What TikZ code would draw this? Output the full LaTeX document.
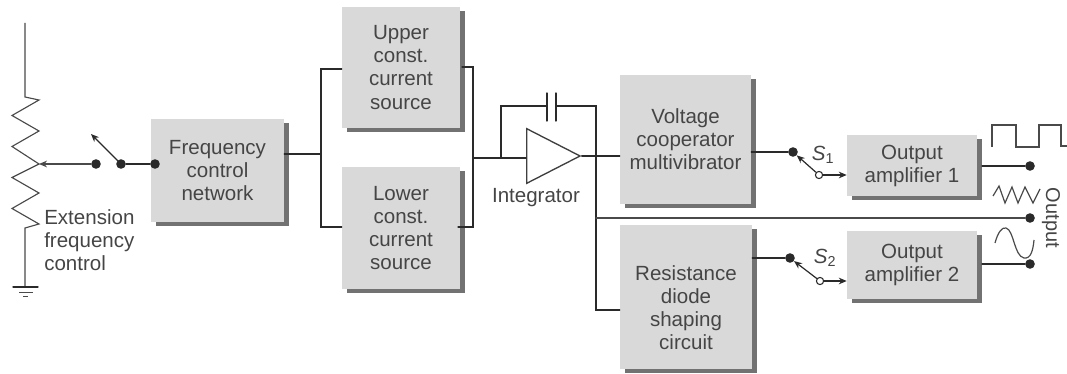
\documentclass[tikz,border=0pt]{standalone}
\usepackage{fontspec}
\setmainfont{Liberation Sans}
\usetikzlibrary{shapes.geometric,shadows,arrows.meta}
\definecolor{boxc}{HTML}{D9D9D9}
\definecolor{shadc}{HTML}{727272}
\definecolor{inkc}{HTML}{2A2A2A}
\definecolor{txtc}{HTML}{454545}
\tikzset{
  wire/.style={draw=inkc,line width=1pt,line cap=round,line join=miter},
  thin wire/.style={draw=inkc!85,line width=.85pt},
  arr/.style={wire,-{Stealth[length=6pt,width=5pt]}},
  blk/.style 2 args={rectangle,fill=boxc,inner sep=0pt,minimum width=#1*.75pt,minimum height=#2*.75pt,
    align=center,text=txtc,font=\fontsize{15.4}{17.3}\selectfont,
    general shadow={fill=shadc,shadow xshift=3.9pt,shadow yshift=-3pt}},
  lbl/.style={inner sep=0pt,align=center,text=txtc,font=\fontsize{15.4}{17.3}\selectfont},
  dot/.style={circle,fill=inkc,inner sep=0pt,minimum size=7.2pt},
  odot/.style={circle,draw=inkc,fill=white,line width=.8pt,inner sep=0pt,minimum size=5.4pt},
  amp/.style={isosceles triangle,isosceles triangle stretches,draw=inkc!90,fill=white,line width=1pt,
    inner sep=0pt,minimum width=41pt,minimum height=40pt,shape border rotate=0},
}
\begin{document}
\begin{tikzpicture}[x=.75pt,y=-.75pt]
\useasboundingbox (0,0) rectangle (1067,374);
% blocks
\node[blk={133}{103}] (freq) at (217.5,170.5) {Frequency\\control\\network};
\node[blk={118}{121}] (upper) at (401,67.5) {Upper\\const.\\current\\source};
\node[blk={118}{122}] (lower) at (401,228) {Lower\\const.\\current\\source};
\node[blk={131}{129}] (volt) at (685.5,139.5) {Voltage\\cooperator\\multivibrator};
\node[blk={132}{144}] (res) at (686,297) {};
\node[lbl] (restxt) at (686,308) {Resistance\\diode\\shaping\\circuit};
\node[blk={130}{61}] (out1) at (912,165.5) {Output\\amplifier 1};
\node[blk={130}{68}] (out2) at (912,265) {Output\\amplifier 2};
% integrator
\node[amp,anchor=lower side] (int) at (526,156) {};
\node[lbl] (intl) at (536,198) {Integrator};
% left circuit
\coordinate (rtop) at (25,23);
\coordinate (r0) at (25,97);
\coordinate (r1) at (25,228);
\coordinate (gnd) at (25,287);
\coordinate (wip) at (39,164);
\draw[thin wire] (rtop) -- (r0) -- (39,100) -- (12,115.5) -- (39,131) -- (12,146.5) -- (wip) -- (12,177.5) -- (39,193) -- (12,208.5) -- (39,224) -- (r1) -- (gnd);
\draw[wire] (13,287) -- (38,287);
\draw[thin wire,line width=.6pt] (19,292) -- (33,292);
\draw[thin wire,line width=.6pt] (23,296) -- (28,296);
\node[dot] (d1) at (96,164) {};
\node[dot] (d2) at (121,164) {};
\node[dot] (d3) at (155,164) {};
\coordinate (swtip) at (91,134);
\draw[arr,thin wire] (d1) -- (wip);
\draw[arr] (d2) -- (swtip);
\draw[wire] (d2) -- (d3);
\node[lbl,anchor=west,align=left] (ext) at (44,240) {Extension\\frequency\\control};
% bracket in
\coordinate (b0) at (321,154);
\coordinate (b1) at (321,69);
\coordinate (b2) at (321,227);
\draw[wire] (freq.east |- b0) -- (b0);
\draw[wire] (upper.west |- b1) -- (b1) -- (b2) -- (lower.west |- b2);
% bracket out
\coordinate (c0) at (473,158);
\coordinate (c1) at (473,67);
\coordinate (c2) at (473,227);
\draw[wire] (462,67) -- (c1) -- (c2) -- (458,227);
\draw[wire] (c0) -- (int.lower side |- c0);
% capacitor loop
\coordinate (l0) at (501,158);
\coordinate (l1) at (501,106);
\coordinate (pa) at (547,106);
\coordinate (pb) at (556,106);
\coordinate (l2) at (596,106);
\coordinate (l3) at (596,158);
\coordinate (l4) at (596,218);
\coordinate (l5) at (596,310);
\draw[wire] (l0) -- (l1) -- (pa);
\draw[wire] (pb) -- (l2) -- (l3) -- (l4) -- (l5) -- (res.west |- l5);
\draw[wire] (547,93) -- (547,121);
\draw[wire] (556,93) -- (556,121);
\draw[wire] (int.apex) -- (volt.west |- int.apex);
% outputs
\node[dot] (s1a) at (793,152) {};
\node[odot] (s1b) at (819,175) {};
\node[dot] (s2a) at (790,258) {};
\node[odot] (s2b) at (820,281) {};
\node[dot] (o1) at (1030,166) {};
\node[dot] (o0) at (1030,218) {};
\node[dot] (o2) at (1030,264) {};
\draw[wire] (volt.east |- s1a) -- (s1a);
\draw[wire] (res.east |- s2a) -- (s2a);
\draw[arr,line width=.9pt] (s1b) -- (s1a);
\draw[arr,line width=.9pt] (s2b) -- (s2a);
\draw[arr,line width=.9pt] (s1b) -- (out1.west |- s1b);
\draw[arr,line width=.9pt] (s2b) -- (out2.west |- s2b);
\draw[wire] (982,166) -- (o1);
\draw[wire] (982,264) -- (o2);
\draw[wire,line width=1.4pt,draw=inkc!85] (l4) -- (o0);
\node[lbl] (s1) at (823,155) {\textit{S}\textsubscript{1}};
\node[lbl] (s2) at (825,258) {\textit{S}\textsubscript{2}};
\node[lbl,rotate=-90,font=\fontsize{15}{17.3}\selectfont] (outl) at (1051,218) {Output};
% waveforms
\draw[thin wire,line width=.9pt] (992,147) -- (992,125) -- (1016,125) -- (1016,147) -- (1039,147) -- (1039,125) -- (1061,125) -- (1061,146) -- (1067,146);
\draw[thin wire,line width=.9pt] (993,196) -- (999,186) -- (1005,203) -- (1012,187) -- (1018,203) -- (1025,187) -- (1033,203) -- (1040,189);
\draw[thin wire,line width=.9pt] (995,243) .. controls (998,232) and (1002,227) .. (1006,228) .. controls (1014,230) and (1014,256) .. (1024,258) .. controls (1031,259) and (1033,250) .. (1034,240);
\end{tikzpicture}
\end{document}
